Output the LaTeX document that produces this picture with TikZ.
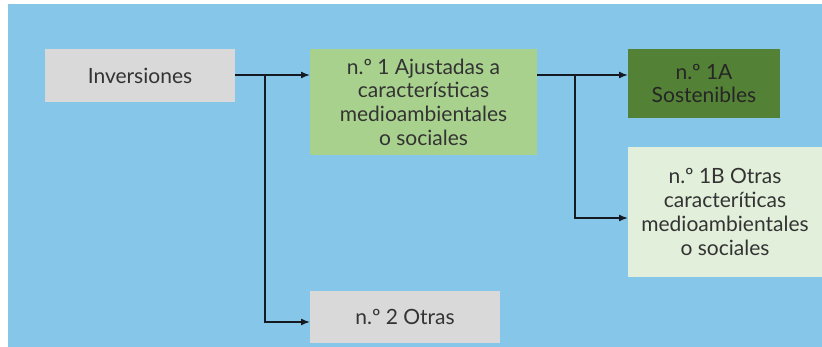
\documentclass[tikz,border=0pt]{standalone}
\usepackage{fontspec}
\setmainfont{Lato}
\usetikzlibrary{arrows.meta}
\definecolor{bgblue}{HTML}{86C6E8}
\definecolor{boxgray}{HTML}{D9D9D9}
\definecolor{boxgreen}{HTML}{A9D18E}
\definecolor{darkgreen}{HTML}{538135}
\definecolor{palegreen}{HTML}{E2EFDA}
\definecolor{txt}{HTML}{333333}
\definecolor{linec}{HTML}{151A22}
\begin{document}
\begin{tikzpicture}[x=1pt,y=-1pt,
  box/.style={inner sep=0pt, outer sep=0pt, align=center, text=txt,
    font=\fontsize{21}{23.7}\selectfont},
  arr/.style={draw=linec, line width=1.5pt, -{Latex[length=9pt,width=7pt]}},
  conn/.style={draw=linec, line width=1.5pt}]
\useasboundingbox (0,0) rectangle (822,347);
\fill[white] (0,0) rectangle (822,347);
\fill[bgblue] (8,4) rectangle (822,347);
\node[box, fill=boxgray, minimum width=190pt, minimum height=53pt] (inv) at (140,75.5) {Inversiones};
\node[box, fill=boxgreen, minimum width=227pt, minimum height=106pt] (b1) at (423.5,102) {n.º 1 Ajustadas a\\características\\medioambientales\\o sociales};
\node[box, fill=darkgreen, minimum width=152pt, minimum height=69pt, text=black!85] (b1a) at (704,83.5) {n.º 1A\\Sostenibles};
\node[box, fill=palegreen, minimum width=194pt, minimum height=130pt] (b1b) at (725,212) {n.º 1B Otras\\caracteríticas\\medioambientales\\o sociales};
\node[box, fill=boxgray, minimum width=190pt, minimum height=52pt] (b2) at (405,317) {n.º 2 Otras};
\coordinate (j1) at (265,75);
\coordinate (j2) at (575,75);
\draw[arr] (inv.east |- j1) -- (b1.west |- j1);
\draw[arr] (j1) |- ([yshift=-5pt]b2.west);
\draw[arr] (b1.east |- j2) -- (b1a.west |- j2);
\draw[arr] (j2) |- ([yshift=-6pt]b1b.west);
\end{tikzpicture}
\end{document}
